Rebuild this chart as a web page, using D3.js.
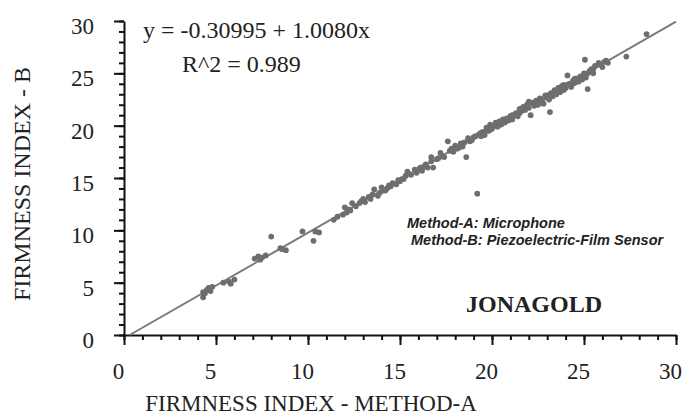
<!DOCTYPE html>
<html>
<head>
<meta charset="utf-8">
<script src="https://cdn.jsdelivr.net/npm/d3@7/dist/d3.min.js"></script>
<style>
  body { margin: 0; background: #fff; }
  text { font-family: "Liberation Serif", "Times New Roman", serif; fill: #222; }
  .axis path, .axis line { stroke: #111; stroke-width: 2; }
  .note { font-family: "Liberation Sans", Arial, sans-serif; font-weight: bold; font-style: italic; }
</style>
</head>
<body>
<script>
var width = 686,
    height = 418;

// firmness index, method A (x) vs method B (y)
var methodA = [4.3, 4.4, 4.5, 4.6, 4.8, 4.3, 4.7, 5.4, 5.7, 6.0, 5.8,
    7.1, 7.3, 7.5, 7.7, 7.4, 8.0, 8.5, 8.8, 8.6, 9.7, 10.3, 10.4, 10.6,
    11.4, 11.6, 11.9, 12.0, 12.1, 12.3, 12.4, 12.6, 12.9, 13.1, 13.3, 13.5,
    13.6, 13.8, 14.0, 14.2, 14.3, 14.6, 14.8, 14.5, 15.0, 15.3, 15.4, 15.6,
    15.8, 15.9, 16.1, 16.2, 16.4, 16.5, 16.7, 16.8, 16.7, 17.0, 17.2, 17.4,
    17.6, 17.7, 17.9, 18.0, 18.2, 18.3, 18.5, 18.6, 18.7, 18.9, 19.0, 19.2,
    19.3, 19.5, 19.6, 19.7, 19.8, 19.9, 20.0, 20.1, 20.2, 20.3, 20.4, 20.5,
    20.6, 20.7, 20.8, 20.9, 21.0, 21.1, 21.2, 21.3, 21.4, 21.6, 21.7, 21.8,
    21.9, 22.0, 22.1, 22.2, 22.3, 22.4, 22.5, 22.6, 22.7, 22.8, 22.9, 23.0,
    23.1, 23.15, 23.2, 23.3, 23.4, 23.5, 23.6, 23.7, 23.8, 23.9, 24.0, 24.1,
    24.2, 24.3, 24.4, 24.5, 24.6, 24.7, 24.8, 24.9, 25.0, 25.05, 25.1, 25.2,
    25.3, 25.4, 25.5, 25.6, 25.8, 26.0, 26.1, 26.3, 27.3, 28.4,
    20.3, 21.5, 22.0, 22.7, 23.4, 23.9, 24.4, 19.4, 17.1, 15.1, 13.9,
    12.2, 12.8, 13.0, 13.4, 14.1, 14.4, 14.9, 15.2, 15.5, 16.0, 16.3, 17.3,
    17.8, 18.1, 18.4, 18.8, 19.1, 19.4, 19.9, 20.5, 20.8, 21.1, 21.5, 21.9,
    22.3, 22.6, 22.9, 23.2, 23.6, 23.9, 24.1, 24.5, 24.8, 25.2, 25.5, 25.9, 26.2];
var methodB = [3.6, 4.0, 4.3, 4.5, 4.6, 4.1, 4.2, 5.0, 5.1, 5.3, 4.9,
    7.3, 7.5, 7.4, 7.6, 7.2, 9.4, 8.3, 8.1, 8.2, 9.9, 9.0, 9.9, 9.8,
    11.0, 11.3, 11.5, 12.2, 11.7, 11.9, 12.6, 12.3, 12.8, 12.7, 13.2, 13.4,
    13.9, 13.3, 14.1, 13.8, 14.0, 14.5, 14.4, 14.2, 14.7, 15.2, 15.6, 15.3,
    15.8, 15.5, 16.0, 15.7, 16.3, 16.0, 16.6, 16.0, 17.0, 16.8, 17.4, 17.0,
    18.5, 17.6, 17.5, 18.1, 17.9, 18.3, 18.4, 17.0, 18.8, 18.6, 18.9, 13.5,
    19.2, 19.4, 19.1, 19.8, 19.5, 20.1, 19.7, 20.0, 20.3, 19.9, 20.4, 20.1,
    20.6, 20.3, 20.7, 20.5, 20.9, 20.6, 21.0, 21.2, 20.9, 21.4, 21.8, 21.5,
    22.0, 21.7, 21.0, 22.2, 21.9, 22.4, 22.0, 22.6, 22.3, 22.1, 22.7, 22.9,
    22.5, 21.3, 23.1, 22.8, 23.4, 23.0, 23.6, 23.2, 23.8, 23.4, 23.6, 24.8,
    24.0, 23.7, 24.3, 24.1, 24.5, 24.2, 24.7, 24.4, 25.0, 26.3, 24.6, 23.5,
    25.2, 25.4, 25.0, 25.7, 26.0, 25.6, 26.1, 26.0, 26.6, 28.75,
    20.2, 21.6, 22.3, 22.4, 23.3, 23.9, 24.0, 19.0, 16.9, 14.9, 13.6,
    12.0, 12.6, 13.0, 13.0, 13.8, 14.3, 14.8, 14.9, 15.4, 15.8, 16.1, 17.1,
    17.8, 17.8, 18.0, 18.5, 19.0, 19.3, 19.6, 20.4, 20.5, 21.0, 21.2, 21.8,
    22.2, 22.2, 22.9, 22.9, 23.3, 23.7, 23.9, 24.5, 24.5, 25.0, 25.4, 25.8, 26.2];

var fitIntercept = -0.30995,
    fitSlope = 1.0080;

var majorTicks = [0, 5, 10, 15, 20, 25, 30];
var minorTicks = d3.range(0, 31);

var margin = {left: 124, top: 21, right: 10, bottom: 83};

var x = d3.scaleLinear()
    .domain([0, 30])
    .range([margin.left, width - margin.right]);

var y = d3.scaleLinear()
    .domain([0, 30])
    .range([height - margin.bottom, margin.top]);

var svg = d3.select("body").append("svg")
    .attr("width", width)
    .attr("height", height);

// minor ticks first, then the major ones with labels
svg.append("g")
    .attr("class", "axis")
    .attr("transform", "translate(0," + y(0) + ")")
    .call(d3.axisBottom(x).tickValues(minorTicks).tickSize(5).tickFormat(""))
    .select(".domain").remove();

svg.append("g")
    .attr("class", "axis")
    .attr("transform", "translate(" + x(0) + ",0)")
    .call(d3.axisLeft(y).tickValues(minorTicks).tickSize(5).tickFormat(""))
    .select(".domain").remove();

var xAxis = svg.append("g")
    .attr("class", "axis")
    .attr("transform", "translate(0," + y(0) + ")")
    .call(d3.axisBottom(x).tickValues(majorTicks).tickSize(10).tickSizeOuter(0).tickPadding(18));

var yAxis = svg.append("g")
    .attr("class", "axis")
    .attr("transform", "translate(" + x(0) + ",0)")
    .call(d3.axisLeft(y).tickValues(majorTicks).tickSize(10).tickSizeOuter(0).tickPadding(20));

svg.selectAll(".axis text")
    .style("font-family", "'Liberation Serif', serif")
    .style("font-size", "23px")
    .attr("fill", "#222");

xAxis.selectAll("text").attr("dx", -6);
yAxis.selectAll("text").attr("dy", "0.55em");

// fitted line
var fitStart = -fitIntercept / fitSlope;
svg.append("line")
    .attr("x1", x(fitStart))
    .attr("y1", y(0))
    .attr("x2", x(30))
    .attr("y2", y(fitIntercept + fitSlope * 30))
    .attr("stroke", "#7a7a7a")
    .attr("stroke-width", 2);

svg.append("g")
    .selectAll("circle")
    .data(methodA)
    .enter().append("circle")
    .attr("cx", function (d) { return x(d); })
    .attr("cy", function (d, i) { return y(methodB[i]); })
    .attr("r", 2.9)
    .attr("fill", "#6e6e6e");

// labels
svg.append("text")
    .attr("x", 311)
    .attr("y", 411)
    .attr("text-anchor", "middle")
    .style("font-size", "23px")
    .text("FIRMNESS INDEX - METHOD-A");

svg.append("text")
    .attr("transform", "translate(30,184) rotate(-90)")
    .attr("text-anchor", "middle")
    .style("font-size", "24px")
    .text("FIRMNESS INDEX - B");

svg.append("text")
    .attr("x", 143)
    .attr("y", 38)
    .style("font-size", "24px")
    .text("y = -0.30995 + 1.0080x");

svg.append("text")
    .attr("x", 182)
    .attr("y", 72)
    .style("font-size", "24px")
    .text("R^2 = 0.989");

svg.append("text")
    .attr("class", "note")
    .attr("x", 407)
    .attr("y", 228)
    .style("font-size", "14.5px")
    .text("Method-A: Microphone");

svg.append("text")
    .attr("class", "note")
    .attr("x", 411)
    .attr("y", 245)
    .style("font-size", "14.5px")
    .text("Method-B: Piezoelectric-Film Sensor");

svg.append("text")
    .attr("x", 534)
    .attr("y", 312)
    .attr("text-anchor", "middle")
    .style("font-size", "24px")
    .style("font-weight", "bold")
    .text("JONAGOLD");
</script>
</body>
</html>
